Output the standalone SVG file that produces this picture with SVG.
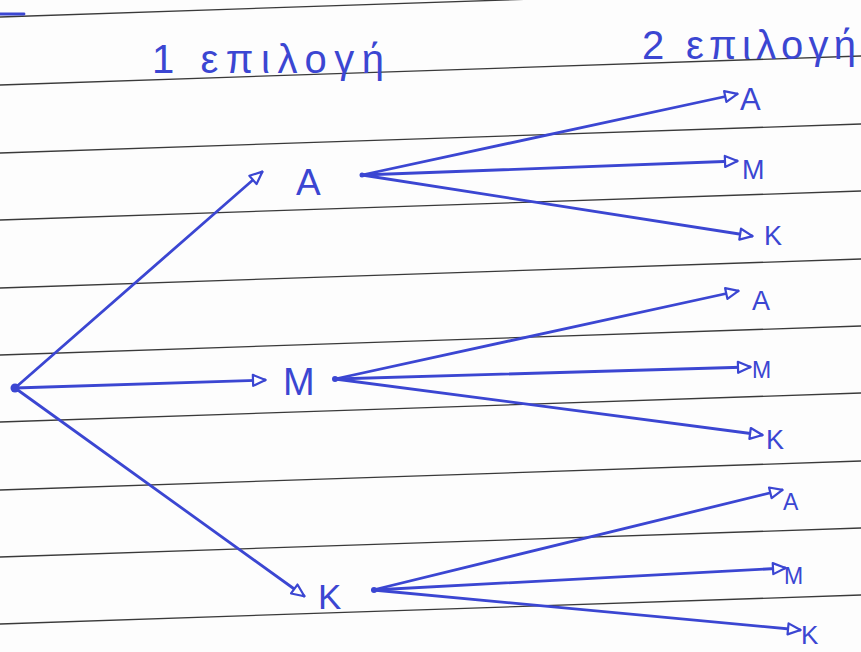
<svg xmlns="http://www.w3.org/2000/svg" width="861" height="652" viewBox="0 0 861 652">
  <style>
    .rule { stroke: #3a3a3a; stroke-width: 1.3; fill: none; }
    .ink { stroke: #3b46d2; stroke-width: 2.8; fill: none; stroke-linecap: round; }
    .dot { fill: #3b46d2; }
    .lbl { font-family: "Liberation Sans", "DejaVu Sans", sans-serif; fill: #3b46d2; }
    .hdr { font-family: "Liberation Sans", "DejaVu Sans", sans-serif; fill: #3b46d2; font-size: 40px; }
  </style>
  <defs>
    <marker id="tip" viewBox="0 0 16 14" refX="14" refY="7" markerWidth="16" markerHeight="14" markerUnits="userSpaceOnUse" orient="auto">
      <path d="M2,1.5 L14.5,7 L2,12.5 Z" fill="#ffffff" stroke="#3b46d2" stroke-width="2.2" stroke-linejoin="round"/>
    </marker>
  </defs>

  <!-- notebook paper -->
  <rect width="861" height="652" fill="#fdfdfd"/>
  <g id="paper-rules">
    <line class="rule" x1="0" y1="17" x2="861" y2="-12"/>
    <line class="rule" x1="0" y1="85" x2="861" y2="56"/>
    <line class="rule" x1="0" y1="153" x2="861" y2="124"/>
    <line class="rule" x1="0" y1="220" x2="861" y2="191"/>
    <line class="rule" x1="0" y1="288" x2="861" y2="259"/>
    <line class="rule" x1="0" y1="355" x2="861" y2="326"/>
    <line class="rule" x1="0" y1="422" x2="861" y2="393"/>
    <line class="rule" x1="0" y1="490" x2="861" y2="461"/>
    <line class="rule" x1="0" y1="557" x2="861" y2="528"/>
    <line class="rule" x1="0" y1="624" x2="861" y2="595"/>
  </g>
  <line class="ink" x1="0" y1="14" x2="24" y2="14"/>

  <!-- column headings -->
  <g id="headings">
    <text class="hdr" x="152" y="73" textLength="232" lengthAdjust="spacing">1 επιλογή</text>
    <text class="hdr" x="642" y="59" textLength="214" lengthAdjust="spacing">2 επιλογή</text>
  </g>

  <!-- branches -->
  <g id="connectors" marker-end="url(#tip)">
    <line class="ink" x1="15" y1="388" x2="262" y2="172"/>
    <line class="ink" x1="15" y1="388" x2="265" y2="380"/>
    <line class="ink" x1="15" y1="388" x2="304" y2="596"/>

    <line class="ink" x1="362" y1="175" x2="737" y2="94"/>
    <line class="ink" x1="362" y1="175" x2="737" y2="161"/>
    <line class="ink" x1="362" y1="175" x2="752" y2="236"/>

    <line class="ink" x1="335" y1="379" x2="738" y2="291"/>
    <line class="ink" x1="335" y1="379" x2="750" y2="367"/>
    <line class="ink" x1="335" y1="379" x2="762" y2="435"/>

    <line class="ink" x1="373" y1="590" x2="782" y2="490"/>
    <line class="ink" x1="373" y1="590" x2="785" y2="568"/>
    <line class="ink" x1="373" y1="590" x2="800" y2="630"/>
  </g>

  <!-- start point -->
  <g id="root"><circle class="dot" cx="15" cy="388" r="4.5"/></g>

  <!-- first choice -->
  <g id="first-A">
    <circle class="dot" cx="362" cy="175" r="2.5"/>
    <text class="lbl" x="296" y="195" font-size="37">Α</text>
  </g>
  <g id="first-M">
    <circle class="dot" cx="335" cy="379" r="3"/>
    <text class="lbl" x="283" y="395" font-size="38">Μ</text>
  </g>
  <g id="first-K">
    <circle class="dot" cx="374" cy="590" r="3"/>
    <text class="lbl" x="318" y="609" font-size="35">Κ</text>
  </g>

  <!-- second choice -->
  <g id="A-A"><text class="lbl" x="740" y="110" font-size="31">Α</text></g>
  <g id="A-M"><text class="lbl" x="742" y="179" font-size="27">Μ</text></g>
  <g id="A-K"><text class="lbl" x="764" y="245" font-size="27">Κ</text></g>

  <g id="M-A"><text class="lbl" x="752" y="310" font-size="27">Α</text></g>
  <g id="M-M"><text class="lbl" x="752" y="378" font-size="23">Μ</text></g>
  <g id="M-K"><text class="lbl" x="766" y="449" font-size="27">Κ</text></g>

  <g id="K-A"><text class="lbl" x="783" y="510" font-size="23">Α</text></g>
  <g id="K-M"><text class="lbl" x="784" y="584" font-size="23">Μ</text></g>
  <g id="K-K"><text class="lbl" x="801" y="644" font-size="26">Κ</text></g>
</svg>
